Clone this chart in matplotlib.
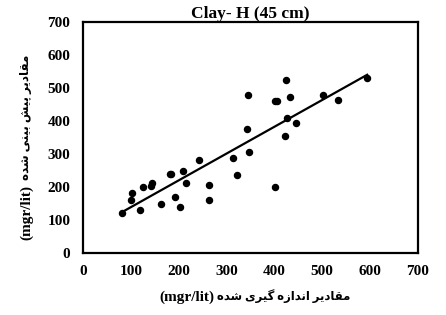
import numpy as np
import matplotlib
matplotlib.use("Agg")
import matplotlib.pyplot as plt

measured = [82, 100, 102, 120, 126, 143, 145, 163, 181, 184, 193, 203, 209, 216,
            242, 263, 264, 314, 321, 342, 345, 346, 401, 402, 406, 423, 425, 427,
            433, 446, 502, 533, 594]
predicted = [121, 161, 183, 130, 201, 203, 213, 148, 238, 238, 171, 140, 247, 213,
             281, 207, 162, 287, 237, 376, 480, 305, 201, 461, 461, 355, 524, 408,
             474, 395, 479, 464, 529]

title = "Clay- H (45 cm)"
xlabel_fa = "مقادیر اندازه گیری شده"
ylabel_fa = "مقادیر پیش بینی شده"
unit = "(mgr/lit)"
ticks = [0, 100, 200, 300, 400, 500, 600, 700]

# Arabic presentation forms: (isolated, final, initial, medial); None -> no left join
FORMS = {
    "ا": ("\uFE8D", "\uFE8E", None, None),
    "ب": ("\uFE8F", "\uFE90", "\uFE91", "\uFE92"),
    "پ": ("\uFB56", "\uFB57", "\uFB58", "\uFB59"),
    "د": ("\uFEA9", "\uFEAA", None, None),
    "ر": ("\uFEAD", "\uFEAE", None, None),
    "ز": ("\uFEAF", "\uFEB0", None, None),
    "ش": ("\uFEB5", "\uFEB6", "\uFEB7", "\uFEB8"),
    "ق": ("\uFED5", "\uFED6", "\uFED7", "\uFED8"),
    "گ": ("\uFB92", "\uFB93", "\uFB94", "\uFB95"),
    "م": ("\uFEE1", "\uFEE2", "\uFEE3", "\uFEE4"),
    "ن": ("\uFEE5", "\uFEE6", "\uFEE7", "\uFEE8"),
    "ه": ("\uFEE9", "\uFEEA", "\uFEEB", "\uFEEC"),
    "ی": ("\uFBFC", "\uFBFD", "\uFBFE", "\uFBFF"),
}


def shape(text):
    out = []
    for i, ch in enumerate(text):
        if ch not in FORMS:
            out.append(ch)
            continue
        prev = text[i - 1] if i > 0 else " "
        nxt = text[i + 1] if i + 1 < len(text) else " "
        join_prev = prev in FORMS and FORMS[prev][2] is not None
        join_next = nxt in FORMS and FORMS[ch][2] is not None
        iso, fin, ini, med = FORMS[ch]
        if join_prev and join_next:
            out.append(med)
        elif join_prev:
            out.append(fin)
        elif join_next:
            out.append(ini)
        else:
            out.append(iso)
    # visual order for a left-to-right renderer
    return "".join(reversed(out))


serif = ["Liberation Serif", "DejaVu Sans"]
W, H = 446, 315

fig = plt.figure(figsize=(W / 100, H / 100), dpi=100)
ax = fig.add_axes([0.186, 0.197, 0.751, 0.733])

ax.scatter(measured, predicted, s=19, color="black", zorder=3)

slope, intercept = np.polyfit(measured, predicted, 1)
xs = np.array([min(measured), max(measured)])
ax.plot(xs, slope * xs + intercept, color="black", linewidth=1.6)

ax.set_xlim(0, 700)
ax.set_ylim(0, 700)
ax.set_xticks(ticks)
ax.set_yticks(ticks)
ax.tick_params(length=0, pad=9)
for lab in ax.get_xticklabels() + ax.get_yticklabels():
    lab.set_fontfamily(serif)
    lab.set_fontweight("bold")
    lab.set_fontsize(11)
for sp in ax.spines.values():
    sp.set_linewidth(1.6)

ax.set_title(title, family=serif, fontweight="bold", fontsize=12.5, pad=0)

# x label: latin unit on the left, persian text on the right
fig.text(214 / W, 1 - 297 / H, unit, family=serif, fontweight="bold",
         fontsize=11, ha="right", va="center")
fig.text(217 / W, 1 - 296 / H, shape(xlabel_fa), family=serif,
         fontweight="bold", fontsize=8.4, ha="left", va="center")

# y label: reads bottom to top, unit at the bottom
fig.text(27 / W, 1 - 240 / H, unit, family=serif, fontweight="bold",
         fontsize=11, rotation=90, ha="center", va="bottom")
fig.text(26 / W, 1 - 180 / H, shape(ylabel_fa), family=serif,
         fontweight="bold", fontsize=8.6, rotation=90, ha="center", va="bottom")

fig.savefig("out.png", dpi=100)
